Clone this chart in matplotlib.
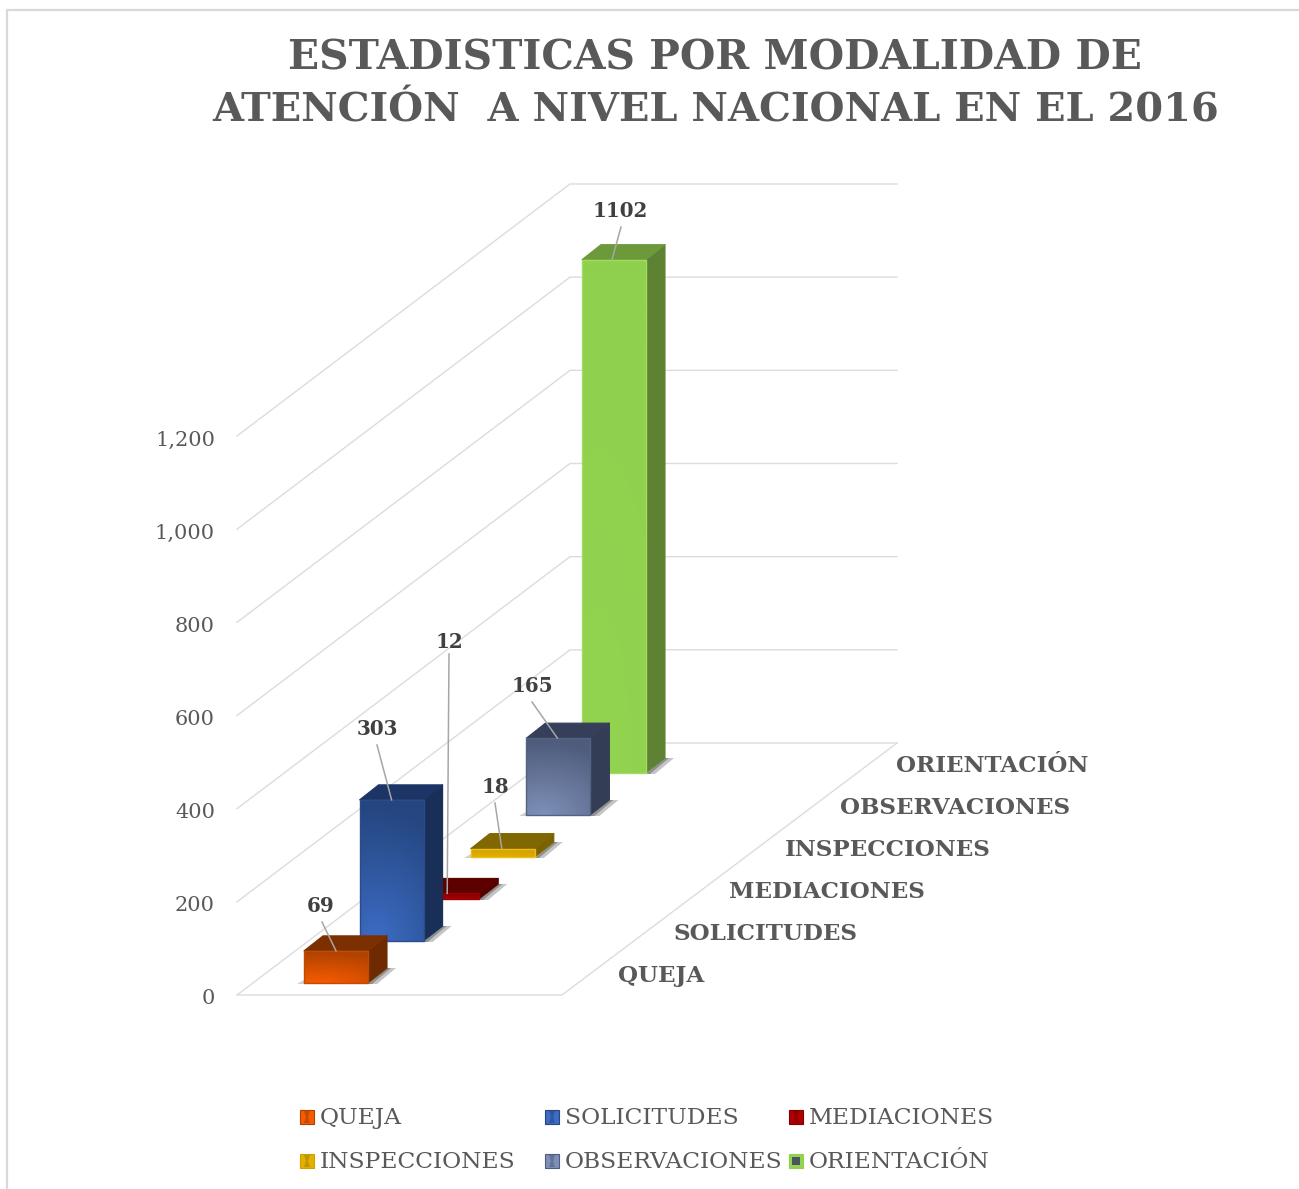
import numpy as np
import matplotlib
matplotlib.use("Agg")
import matplotlib.pyplot as plt
from matplotlib.patches import Polygon, Rectangle
from matplotlib.colors import to_rgb

categories = ["QUEJA", "SOLICITUDES", "MEDIACIONES", "INSPECCIONES", "OBSERVACIONES", "ORIENTACIÓN"]
values = [69, 303, 12, 18, 165, 1102]
ticks = [0, 200, 400, 600, 800, 1000, 1200]
tick_labels = ["0", "200", "400", "600", "800", "1,000", "1,200"]
title_lines = ["ESTADISTICAS POR MODALIDAD DE", "ATENCIÓN  A NIVEL NACIONAL EN EL 2016"]

# colours per bar: bright front, dark front, side, top, rim
colors = [
    ("#F75B00", "#B04200", "#6E2A00", "#7C3000", "#C04C00"),
    ("#3C6CC4", "#254680", "#1A2F57", "#1C3566", "#2A4C88"),
    ("#B00000", "#800000", "#560000", "#5C0000", "#A00000"),
    ("#E3B000", "#D0A000", "#7A6200", "#806700", "#EDBE10"),
    ("#7E90B8", "#4F5C7C", "#333D56", "#363F59", "#556383"),
    ("#92D450", "#8FD04E", "#5E8233", "#6C9A3B", "#A0DC62"),
]

# oblique projection, all in pixels of the picture
PX_PER_UNIT = 559 / 1200
WALL_FRONT_X, WALL_BACK_X, WALL_END_X, FLOOR_END_X = 237, 570, 897, 562
FLOOR_FRONT_Y, FLOOR_BACK_Y = 995, 743
BAR_X0, BAR_Y0 = 304, 983
STEP_X, STEP_Y = 55.6, -42
BAR_W, DEPTH_X, DEPTH_Y = 64, 19, -15
GREY, DARK, GRID = "#595959", "#404040", "#DCDCDC"
SERIF = "DejaVu Serif"


def bar_base(i):
    return BAR_X0 + STEP_X * i, BAR_Y0 + STEP_Y * i


def val_h(v):
    return v * PX_PER_UNIT


fig = plt.figure(figsize=(12.99, 11.89), dpi=100)
ax = fig.add_axes([0, 0, 1, 1])
ax.axis("off")

# chart border
ax.plot([7, 7, 1299], [1189, 10, 10], color="#D9D9D9", lw=1.6, zorder=1)

# walls and floor
for v in ticks:
    h = val_h(v)
    ax.plot([WALL_FRONT_X, WALL_BACK_X, WALL_END_X],
            [FLOOR_FRONT_Y - h, FLOOR_BACK_Y - h, FLOOR_BACK_Y - h], color=GRID, lw=1, zorder=1)
ax.plot([WALL_FRONT_X, FLOOR_END_X, WALL_END_X],
        [FLOOR_FRONT_Y, FLOOR_FRONT_Y, FLOOR_BACK_Y], color=GRID, lw=1, zorder=1)

# bars from back to front
for i in reversed(range(len(values))):
    x, y = bar_base(i)
    h = val_h(values[i])
    bright, dark, side, top, rim = colors[i]
    z = 10 + (len(values) - i) * 2
    # shadow
    ax.add_patch(Polygon([(x + BAR_W, y + 1), (x + BAR_W + DEPTH_X, y + DEPTH_Y),
                          (x + BAR_W + DEPTH_X + 9, y + DEPTH_Y), (x + BAR_W + 9, y + 1)],
                         fc="#8C8C8C", ec="none", alpha=0.5, zorder=z))
    ax.add_patch(Polygon([(x + BAR_W, y + 1), (x + BAR_W + DEPTH_X, y + DEPTH_Y),
                          (x + BAR_W + DEPTH_X + 4, y + DEPTH_Y), (x + BAR_W + 4, y + 1)],
                         fc="#6E6E6E", ec="none", alpha=0.6, zorder=z))
    ax.add_patch(Polygon([(x - 7, y + 1), (x + BAR_W, y + 1), (x + BAR_W, y - 3), (x, y - 3)],
                         fc="#B0B0B0", ec="none", alpha=0.6, zorder=z))
    # side and top
    ax.add_patch(Polygon([(x + BAR_W, y), (x + BAR_W + DEPTH_X, y + DEPTH_Y),
                          (x + BAR_W + DEPTH_X, y + DEPTH_Y - h), (x + BAR_W, y - h)],
                         fc=side, ec=side, lw=0.8, joinstyle="round", zorder=z + 0.1))
    ax.add_patch(Polygon([(x, y - h), (x + BAR_W, y - h), (x + BAR_W + DEPTH_X, y + DEPTH_Y - h),
                          (x + DEPTH_X, y + DEPTH_Y - h)],
                         fc=top, ec=top, lw=0.8, joinstyle="round", zorder=z + 0.1))
    # front face with a glow from the bottom, a bit to the left
    gy, gx = np.mgrid[0:1:40j, 0:1:40j]
    t = np.clip(np.hypot(0.6 * (gx - 0.25), 1 - gy) / 0.95, 0, 1)[..., None]
    img = np.array(to_rgb(bright)) * (1 - t) + np.array(to_rgb(dark)) * t
    im = ax.imshow(img, extent=[x, x + BAR_W, y, y - h], origin="upper", aspect="auto",
                   interpolation="bilinear", zorder=z + 0.2)
    face = Polygon([(x, y), (x + BAR_W, y), (x + BAR_W, y - h), (x, y - h)], fc="none", ec=rim,
                   lw=1.0, joinstyle="round", zorder=z + 0.3)
    ax.add_patch(face)
    im.set_clip_path(face)

# value labels and their leader lines
label_pos = [(321, 906), (377, 729), (449, 642), (495, 787), (532, 686), (620, 211)]
leader_start = [(322, 922), (377, 745), (449, 654), (495, 803), (532, 702), (621, 227)]
leader_anchor = [32, 32, 32, 31, 31, 30]
for i, v in enumerate(values):
    x, y = bar_base(i)
    ax.text(*label_pos[i], str(v), family=SERIF, weight="bold", fontsize=14.3, color=DARK,
            ha="center", va="center", zorder=40)
    ax.plot([leader_start[i][0], x + leader_anchor[i]],
            [leader_start[i][1], y - val_h(v)],
            color="#A6A6A6", lw=1.1, zorder=39)

# value axis
for v, lab in zip(ticks, tick_labels):
    ax.text(215, FLOOR_FRONT_Y - val_h(v) + 4, lab, family=SERIF, fontsize=15, color=GREY,
            ha="right", va="center")

# depth axis
for i, c in enumerate(categories):
    ax.text(618 + STEP_X * i, 976 + STEP_Y * i, c, family=SERIF, weight="bold", fontsize=16.6,
            color=GREY, ha="left", va="center")

# title
ax.text(715, 59, title_lines[0], family=SERIF, weight="bold", fontsize=29.3, color=GREY, ha="center", va="center")
ax.text(715.5, 110, title_lines[1], family=SERIF, weight="bold", fontsize=28.8, color=GREY, ha="center", va="center")

# legend
legend_x = [300, 545, 789]
legend_y = [1117, 1161]
for i, c in enumerate(categories):
    lx, ly = legend_x[i % 3], legend_y[i // 3]
    bright, dark, side, top, rim = colors[i]
    ax.add_patch(Rectangle((lx, ly - 7), 14, 14, fc=bright, ec=dark, lw=0.8, zorder=5))
    if i == 5:
        ax.add_patch(Rectangle((lx + 3, ly - 4), 8, 8, fc="#4A5560", ec="none", zorder=6))
    else:
        ax.add_patch(Polygon([(lx + 4, ly - 6), (lx + 10, ly - 6), (lx + 8, ly), (lx + 10, ly + 6),
                              (lx + 4, ly + 6), (lx + 6, ly)], fc=side, ec="none", alpha=0.35, zorder=6))
    ax.text(lx + 20, ly + 1, c, family=SERIF, fontsize=16.8, color=GREY, ha="left", va="center")

ax.set_xlim(0, 1299)
ax.set_ylim(1189, 0)
fig.savefig("out.png", dpi=100)
